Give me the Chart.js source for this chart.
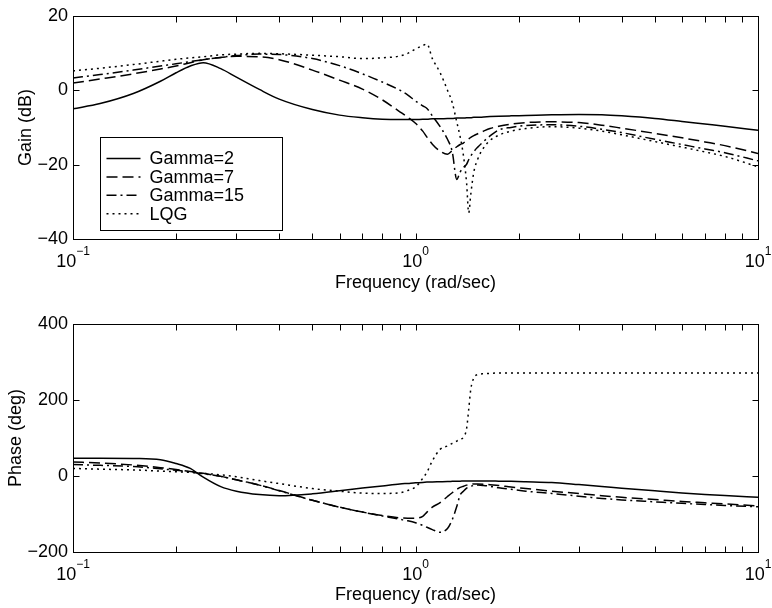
<!DOCTYPE html>
<html>
<head>
<meta charset="utf-8">
<title>Gain / Phase</title>
<script src="https://cdn.jsdelivr.net/npm/chart.js@4.4.1/dist/chart.umd.min.js"></script>
<style>
    html, body { margin: 0; padding: 0; background: #fff; }
    #contenedor { position: relative; width: 772px; height: 608px; }
    #contenedor canvas { position: absolute; left: 0; }
</style>
</head>
<body>
<div id="contenedor">
    <canvas id="cGanancia" width="772" height="304" style="top:0px"></canvas>
    <canvas id="cFase" width="772" height="304" style="top:304px"></canvas>
</div>
<script>
var frecuencias = [0.1, 0.12, 0.15, 0.18, 0.2, 0.22, 0.24, 0.27, 0.3, 0.35,
    0.4, 0.5, 0.6, 0.7, 0.8, 0.9, 0.95, 1.0, 1.05, 1.08,
    1.12, 1.18, 1.24, 1.28, 1.32, 1.35, 1.38, 1.41, 1.43, 1.45,
    1.48, 1.52, 1.58, 1.65, 1.75, 1.9, 2.1, 2.5, 3, 3.5,
    4, 5, 6, 7, 8, 10];

var gananciaGamma2 = [-5.0, -3.6, -0.9, 2.4, 4.7, 6.5, 7.4, 5.8, 3.5, 0.2,
    -2.4, -5.2, -6.7, -7.4, -7.8, -7.9, -7.9, -7.9, -7.8, -7.8,
    -7.7, -7.7, -7.6, -7.6, -7.5, -7.5, -7.5, -7.4, -7.4, -7.4,
    -7.3, -7.3, -7.2, -7.1, -7.0, -6.9, -6.8, -6.6, -6.5, -6.6,
    -6.9, -7.6, -8.4, -9.1, -9.7, -10.8];
var gananciaGamma7 = [1.9, 3.0, 4.4, 5.7, 6.5, 7.4, 8.2, 8.8, 9.1, 9.0,
    8.2, 5.4, 2.7, 0.3, -2.6, -5.8, -7.3, -8.9, -11.0, -12.6,
    -14.5, -16.4, -17.2, -16.2, -15.2, -14.6, -14.2, -13.5, -13.1, -12.7,
    -12.2, -11.7, -11.0, -10.3, -9.7, -9.1, -8.7, -8.5, -8.7, -9.4,
    -10.2, -11.6, -12.8, -13.9, -14.9, -17.0];
var gananciaGamma15 = [3.3, 4.2, 5.4, 6.5, 7.1, 7.7, 8.2, 8.8, 9.3, 9.7,
    9.6, 8.5, 6.6, 4.4, 2.2, 0.0, -1.3, -2.9, -4.2, -4.9,
    -6.9, -9.8, -13.2, -16.5, -24.0, -22.0, -20.8, -19.9, -18.7, -17.7,
    -16.5, -15.3, -13.8, -12.3, -10.7, -10.0, -9.5, -9.3, -9.7, -10.5,
    -11.4, -13.2, -14.6, -15.8, -16.8, -19.0];
var gananciaLQG = [5.2, 5.9, 6.9, 7.8, 8.3, 8.7, 9.0, 9.5, 9.7, 9.9,
    9.8, 9.4, 9.0, 8.5, 8.7, 9.2, 9.9, 11.1, 12.0, 12.4,
    8.5, 4.7, 0.0, -3.3, -8.6, -12.5, -17.5, -25.0, -33.0, -28.0,
    -22.0, -18.5, -15.5, -13.5, -12.1, -11.0, -10.3, -9.8, -10.2, -11.0,
    -12.0, -13.8, -15.3, -16.6, -17.8, -20.6];

var faseGamma2 = [47, 47, 46, 43, 33, 20, -3, -28, -40, -49,
    -52, -47, -39, -31.5, -26, -21, -19.5, -18, -17, -16,
    -15.5, -15, -14.5, -14, -13.5, -13.5, -13, -13, -13, -13,
    -13, -13, -13, -13, -13.5, -14, -15, -17, -22.5, -27.5,
    -32, -39, -44.5, -48.5, -51.5, -56];
var faseGamma7 = [37, 34, 29, 22, 17, 12, 7, -1, -10, -24,
    -38, -64, -82, -95, -104, -110, -111, -111, -106, -95,
    -82, -70, -54, -44, -35, -30, -27, -24, -23, -22,
    -21, -21, -21.5, -23, -25, -29, -33, -40, -46, -52,
    -56, -62, -67, -70.5, -73.5, -79];
var faseGamma15 = [30, 28, 25, 19, 15, 11, 6, -1, -10, -24,
    -39, -64, -82, -95, -105, -114, -118, -123, -130, -135,
    -141, -148, -138, -115, -80, -50, -40, -32, -29, -27,
    -25, -24, -25, -27, -31, -35, -40, -46, -53, -59,
    -63, -68, -72, -75, -77.5, -81];
var faseLQG = [20, 18, 16, 13, 11, 9.5, 7, 3, -2, -12,
    -20, -33, -40, -45, -46, -44, -38, -29, -6, 10,
    40, 70, 79, 86, 92, 97, 102, 125, 175, 228,
    258, 267, 269, 270, 271, 271, 271, 271, 271, 271,
    271, 271, 271, 271, 271, 271];

var nombresSeries = ["Gamma=2", "Gamma=7", "Gamma=15", "LQG"];
var ticksGanancia = [20, 0, -20, -40];
var ticksFase = [400, 200, 0, -200];
var decadas = [0.1, 1, 10];

var fuente = "'Liberation Sans', Arial, Helvetica, sans-serif";
var trazos = [[], [11, 5], [10, 4, 2, 4], [2, 4]];

function armarPuntos(valores)
{
    return frecuencias.map(function (f, i) {
        return {x: f, y: valores[i]};
    });
}

function armarDatasets(series)
{
    return series.map(function (valores, i) {
        return {
            label: nombresSeries[i],
            data: armarPuntos(valores),
            borderColor: "#000000",
            borderWidth: 1.5,
            borderDash: trazos[i],
            pointRadius: 0,
            fill: false,
            cubicInterpolationMode: "monotone"
        };
    });
}

function textoTick(valor)
{
    return String(valor).replace("-", "\u2212");
}

function dibujarMarco(chart, ticksY)
{
    var ctx = chart.ctx;
    var a = chart.chartArea;
    var sx = chart.scales.x;
    var sy = chart.scales.y;
    var l = Math.round(a.left) + 0.5, r = Math.round(a.right) + 0.5;
    var t = Math.round(a.top) + 0.5, b = Math.round(a.bottom) + 0.5;
    var largo = 6;

    ctx.save();
    ctx.strokeStyle = "#000";
    ctx.lineWidth = 1;
    ctx.setLineDash([]);
    ctx.strokeRect(l, t, r - l, b - t);

    ctx.beginPath();
    ticksY.forEach(function (v) {
        var y = Math.round(sy.getPixelForValue(v)) + 0.5;
        ctx.moveTo(l, y); ctx.lineTo(l + largo, y);
        ctx.moveTo(r, y); ctx.lineTo(r - largo, y);
    });
    [0.1, 1].forEach(function (d) {
        for (var k = 1; k <= 9; k++) {
            var x = Math.round(sx.getPixelForValue(k * d)) + 0.5;
            ctx.moveTo(x, b); ctx.lineTo(x, b - largo);
            ctx.moveTo(x, t); ctx.lineTo(x, t + largo);
        }
    });
    ctx.stroke();

    ctx.fillStyle = "#000";
    ctx.textAlign = "left";
    ctx.textBaseline = "alphabetic";
    decadas.forEach(function (v) {
        var exp = textoTick(Math.round(Math.log10(v)));
        ctx.font = "18px " + fuente;
        var anchoBase = ctx.measureText("10").width;
        ctx.font = "12px " + fuente;
        var anchoExp = ctx.measureText(exp).width;
        var x0 = sx.getPixelForValue(v) - (anchoBase + anchoExp) / 2;
        ctx.font = "18px " + fuente;
        ctx.fillText("10", x0, a.bottom + 28);
        ctx.font = "12px " + fuente;
        ctx.fillText(exp, x0 + anchoBase, a.bottom + 16);
    });
    ctx.restore();
}

function dibujarLeyenda(chart)
{
    var ctx = chart.ctx;
    var a = chart.chartArea;
    var x = Math.round(a.left + 27) + 0.5;
    var y = Math.round(a.top + 121) + 0.5;
    var ancho = 182, alto = 93;

    ctx.save();
    ctx.fillStyle = "#fff";
    ctx.fillRect(x, y, ancho, alto);
    ctx.strokeStyle = "#000";
    ctx.lineWidth = 1;
    ctx.setLineDash([]);
    ctx.strokeRect(x, y, ancho, alto);

    ctx.font = "18px " + fuente;
    ctx.textAlign = "left";
    ctx.textBaseline = "middle";
    nombresSeries.forEach(function (nombre, i) {
        var fy = y + 21 + i * 18.4;
        ctx.beginPath();
        ctx.lineWidth = 1.5;
        ctx.setLineDash(trazos[i]);
        ctx.moveTo(x + 6, fy);
        ctx.lineTo(x + 40, fy);
        ctx.stroke();
        ctx.fillStyle = "#000";
        ctx.fillText(nombre, x + 49, fy + 1);
    });
    ctx.restore();
}

function generarGrafico(canvas, series, ticksY, titulo, opc)
{
    var marco = {
        id: "marco",
        afterDraw: function (chart) {
            dibujarMarco(chart, ticksY);
            if (opc.leyenda) {
                dibujarLeyenda(chart);
            }
        }
    };

    new Chart(canvas, {
        type: "line",
        data: {datasets: armarDatasets(series)},
        options: {
            responsive: false,
            animation: false,
            layout: {padding: {left: 0, right: 14, top: opc.arriba, bottom: 0}},
            plugins: {legend: {display: false}, tooltip: {enabled: false}},
            scales: {
                x: {
                    type: "logarithmic",
                    min: 0.1,
                    max: 10,
                    grid: {display: false, drawTicks: false},
                    border: {display: false},
                    ticks: {display: false},
                    title: {
                        display: true,
                        text: "Frequency (rad/sec)",
                        color: "#000",
                        font: {family: fuente, size: 18},
                        padding: {top: 0, bottom: opc.pieTitulo}
                    },
                    afterFit: function (s) { s.height = opc.altoX; }
                },
                y: {
                    min: ticksY[ticksY.length - 1],
                    max: ticksY[0],
                    grid: {display: false, drawTicks: false},
                    border: {display: false},
                    afterBuildTicks: function (s) {
                        s.ticks = ticksY.map(function (v) { return {value: v}; });
                    },
                    ticks: {
                        color: "#000",
                        padding: 5,
                        font: {family: fuente, size: 18},
                        callback: function (v) { return textoTick(v); }
                    },
                    title: {
                        display: true,
                        text: titulo,
                        color: "#000",
                        font: {family: fuente, size: 18},
                        padding: {top: opc.margenTitulo, bottom: 0}
                    },
                    afterFit: function (s) { s.width = 73; }
                }
            }
        },
        plugins: [marco]
    });
}

generarGrafico(document.getElementById("cGanancia"),
    [gananciaGamma2, gananciaGamma7, gananciaGamma15, gananciaLQG],
    ticksGanancia, "Gain (dB)",
    {arriba: 13, altoX: 65, pieTitulo: 10.5, margenTitulo: 15, leyenda: true});

generarGrafico(document.getElementById("cFase"),
    [faseGamma2, faseGamma7, faseGamma15, faseLQG],
    ticksFase, "Phase (deg)",
    {arriba: 20, altoX: 56, pieTitulo: 2, margenTitulo: 5, leyenda: false});
</script>
</body>
</html>
